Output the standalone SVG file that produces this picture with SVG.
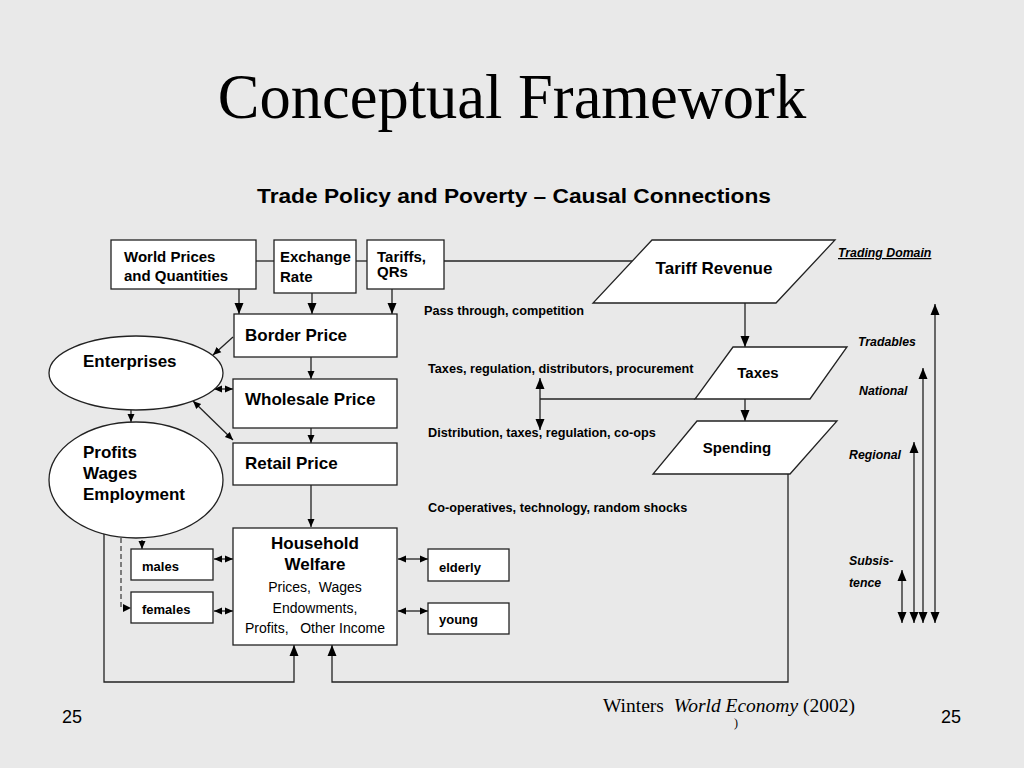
<svg xmlns="http://www.w3.org/2000/svg" width="1024" height="768" viewBox="0 0 1024 768">
<style>
.bg{fill:#e9e9e9}
.box{fill:#fff;stroke:#222;stroke-width:1.3}
.ln{fill:none;stroke:#222;stroke-width:1.3}
.dash{fill:none;stroke:#444;stroke-width:1.3;stroke-dasharray:5,3}
.t{font-family:"Liberation Sans",Arial,sans-serif;font-weight:bold;fill:#000}
.n{font-family:"Liberation Sans",Arial,sans-serif;fill:#000}
.b15{font-size:15px}
.b16{font-size:17px}
.b12{font-size:12.7px}
.b13{font-size:13px}
.b14{font-size:14px}
.it{font-family:"Liberation Sans",Arial,sans-serif;font-weight:bold;font-style:italic;font-size:12.3px;fill:#000}
.serif{font-family:"Liberation Serif","Times New Roman",serif;fill:#000}
</style>
<defs>
<marker id="a" markerUnits="userSpaceOnUse" markerWidth="12" markerHeight="12" viewBox="0 0 12 12" refX="11" refY="6" orient="auto-start-reverse">
<path d="M0,1.5 L11,6 L0,10.5 Z" fill="#000"/>
</marker>
<marker id="s" markerUnits="userSpaceOnUse" markerWidth="9" markerHeight="9" viewBox="0 0 9 9" refX="8" refY="4.5" orient="auto-start-reverse">
<path d="M0,1 L8,4.5 L0,8 Z" fill="#000"/>
</marker>
</defs>
<rect class="bg" x="0" y="0" width="1024" height="768"/>

<text class="serif" x="512" y="118" font-size="62.5" text-anchor="middle">Conceptual Framework</text>
<text class="t" x="514" y="203" font-size="20" text-anchor="middle" textLength="514" lengthAdjust="spacingAndGlyphs">Trade Policy and Poverty – Causal Connections</text>

<g id="connectors">
<line class="ln" x1="256" y1="261" x2="274" y2="261"/>
<line class="ln" x1="356" y1="261" x2="367" y2="261"/>
<line class="ln" x1="444" y1="261" x2="635" y2="261"/>
<line class="ln" x1="239" y1="289" x2="239" y2="314" marker-end="url(#a)"/>
<line class="ln" x1="312" y1="293" x2="312" y2="314" marker-end="url(#a)"/>
<line class="ln" x1="392" y1="289" x2="392" y2="314" marker-end="url(#a)"/>
<line class="ln" x1="311" y1="357" x2="311" y2="379" marker-end="url(#s)"/>
<line class="ln" x1="311" y1="423" x2="311" y2="443" marker-end="url(#s)"/>
<line class="ln" x1="311" y1="485" x2="311" y2="527" marker-end="url(#s)"/>
<line class="ln" x1="233" y1="337" x2="213" y2="355" marker-end="url(#s)"/>
<line class="ln" x1="214" y1="389" x2="233" y2="389" marker-start="url(#s)" marker-end="url(#s)"/>
<line class="ln" x1="193" y1="401" x2="233" y2="440" marker-start="url(#s)" marker-end="url(#s)"/>
<line class="ln" x1="131" y1="410" x2="131" y2="422" marker-end="url(#s)"/>
<line class="ln" x1="142" y1="540" x2="142" y2="549" marker-end="url(#s)"/>
<polyline class="dash" points="121,538 121,608 131,608"/>
<path d="M123,604 L131,608 L123,612 Z" fill="#000"/>
<line class="ln" x1="214" y1="559" x2="233" y2="559" marker-start="url(#s)" marker-end="url(#s)"/>
<line class="ln" x1="214" y1="611" x2="233" y2="611" marker-start="url(#s)" marker-end="url(#s)"/>
<line class="ln" x1="398" y1="559" x2="428" y2="559" marker-start="url(#s)" marker-end="url(#s)"/>
<line class="ln" x1="398" y1="611" x2="428" y2="611" marker-start="url(#s)" marker-end="url(#s)"/>
<polyline class="ln" points="104,533 104,682 294,682 294,645" marker-end="url(#a)"/>
<polyline class="ln" points="788,474 788,682 332,682 332,645" marker-end="url(#a)"/>
<line class="ln" x1="745" y1="303" x2="745" y2="347" marker-end="url(#a)"/>
<line class="ln" x1="745" y1="399" x2="745" y2="421" marker-end="url(#a)"/>
<line class="ln" x1="540" y1="399" x2="695" y2="399"/>
<line class="ln" x1="540" y1="378" x2="540" y2="430" marker-start="url(#a)" marker-end="url(#a)"/>
<line class="ln" x1="935" y1="304" x2="935" y2="623" marker-start="url(#a)" marker-end="url(#a)"/>
<line class="ln" x1="923" y1="368" x2="923" y2="623" marker-start="url(#a)" marker-end="url(#a)"/>
<line class="ln" x1="914" y1="442" x2="914" y2="623" marker-start="url(#a)" marker-end="url(#a)"/>
<line class="ln" x1="902" y1="570" x2="902" y2="623" marker-start="url(#a)" marker-end="url(#a)"/>
</g>

<g id="world-prices">
<rect class="box" x="111" y="240" width="145" height="49"/>
<text class="t b15" x="124" y="262">World Prices</text>
<text class="t b15" x="124" y="281">and Quantities</text>
</g>
<g id="exchange-rate">
<rect class="box" x="274" y="240" width="82" height="53"/>
<text class="t b15" x="280" y="262">Exchange</text>
<text class="t b15" x="280" y="282">Rate</text>
</g>
<g id="tariffs">
<rect class="box" x="367" y="240" width="77" height="49"/>
<text class="t b15" x="377" y="262">Tariffs,</text>
<text class="t b15" x="377" y="277">QRs</text>
</g>
<g id="tariff-revenue">
<polygon class="box" points="652,240 835,240 776,303 593,303"/>
<text class="t b16" x="714" y="274" text-anchor="middle">Tariff Revenue</text>
</g>
<g id="taxes">
<polygon class="box" points="733,347 847,347 810,399 695,399"/>
<text class="t b15" x="758" y="378" text-anchor="middle">Taxes</text>
</g>
<g id="spending">
<polygon class="box" points="697,421 837,421 790,474 653,474"/>
<text class="t b15" x="737" y="453" text-anchor="middle">Spending</text>
</g>
<g id="border-price">
<rect class="box" x="234" y="314" width="163" height="43"/>
<text class="t b16" x="245" y="341">Border Price</text>
</g>
<g id="wholesale-price">
<rect class="box" x="233" y="379" width="164" height="49"/>
<text class="t b16" x="245" y="405">Wholesale Price</text>
</g>
<g id="retail-price">
<rect class="box" x="233" y="443" width="164" height="42"/>
<text class="t b16" x="245" y="469">Retail Price</text>
</g>
<g id="enterprises">
<ellipse class="box" cx="136" cy="373" rx="87" ry="37"/>
<text class="t b16" x="83" y="367">Enterprises</text>
</g>
<g id="profits">
<ellipse class="box" cx="136" cy="480" rx="87" ry="58"/>
<text class="t b16" x="83" y="458">Profits</text>
<text class="t b16" x="83" y="479">Wages</text>
<text class="t b16" x="83" y="500">Employment</text>
</g>
<g id="household">
<rect class="box" x="233" y="528" width="164" height="117"/>
<text class="t b16" x="315" y="549" text-anchor="middle">Household</text>
<text class="t b16" x="315" y="570" text-anchor="middle">Welfare</text>
<text class="n b14" x="315" y="592" text-anchor="middle" xml:space="preserve">Prices,  Wages</text>
<text class="n b14" x="315" y="613" text-anchor="middle">Endowments,</text>
<text class="n b14" x="315" y="633" text-anchor="middle" xml:space="preserve">Profits,   Other Income</text>
</g>
<g id="males">
<rect class="box" x="131" y="549" width="82" height="31"/>
<text class="t b13" x="142" y="571">males</text>
</g>
<g id="females">
<rect class="box" x="131" y="592" width="82" height="31"/>
<text class="t b13" x="142" y="614">females</text>
</g>
<g id="elderly">
<rect class="box" x="428" y="549" width="81" height="32"/>
<text class="t b13" x="439" y="572">elderly</text>
</g>
<g id="young">
<rect class="box" x="428" y="603" width="81" height="31"/>
<text class="t b13" x="439" y="624">young</text>
</g>

<g id="labels">
<text class="t b12" x="424" y="315">Pass through, competition</text>
<text class="t b12" x="428" y="373">Taxes, regulation, distributors, procurement</text>
<text class="t b12" x="428" y="437">Distribution, taxes, regulation, co-ops</text>
<text class="t b12" x="428" y="512">Co-operatives, technology, random shocks</text>
<text class="it" x="838" y="257" text-decoration="underline">Trading Domain</text>
<text class="it" x="858" y="346">Tradables</text>
<text class="it" x="859" y="395">National</text>
<text class="it" x="849" y="459">Regional</text>
<text class="it" x="849" y="565">Subsis-</text>
<text class="it" x="849" y="587">tence</text>
</g>

<g id="footer">
<text class="serif" x="603" y="712" font-size="19.5" xml:space="preserve">Winters  <tspan font-style="italic">World Economy</tspan> (2002)</text>
<text class="serif" x="734" y="727" font-size="12">)</text>
<text class="n" x="72" y="723" font-size="18" text-anchor="middle">25</text>
<text class="n" x="951" y="723" font-size="18" text-anchor="middle">25</text>
</g>
</svg>
